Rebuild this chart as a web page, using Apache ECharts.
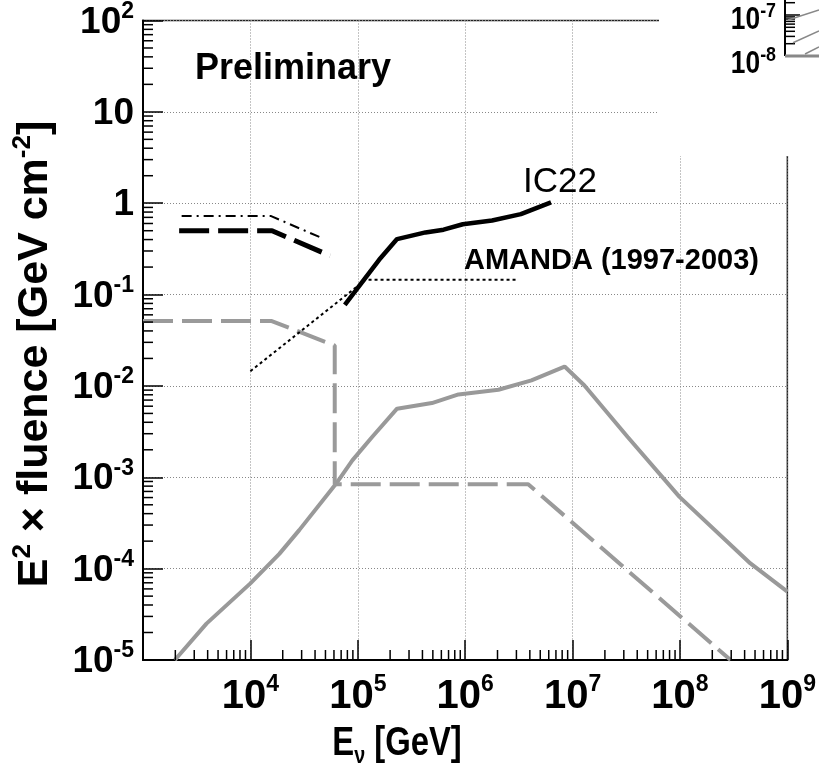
<!DOCTYPE html>
<html><head><meta charset="utf-8">
<script src="https://cdn.jsdelivr.net/npm/echarts@6/dist/echarts.min.js"></script>
<style>html,body{margin:0;padding:0;background:#fff}#c{width:819px;height:767px}</style>
</head><body><div id="c"></div>
<script>
// ---- data ----
const energyIC22   = [7.57e4, 1.58e5, 2.32e5, 4.27e5, 6.3e5, 9.5e5, 1.78e6, 3.3e6, 6.3e6];
const fluenceIC22  = [0.0771, 0.24, 0.405, 0.479, 0.513, 0.589, 0.646, 0.759, 1.02];

const energyAmanda  = [1e4, 1.18e5, 3e6];
const fluenceAmanda = [0.0145, 0.145, 0.145];

const energyDashDot  = [2.29e3, 1.56e4, 4.62e4];
const fluenceDashDot = [0.723, 0.723, 0.416];

const energyDashBlack  = [2.17e3, 1.59e4, 5.52e4];
const fluenceDashBlack = [0.5, 0.5, 0.266];

const energyGrayDash  = [1e3, 1.56e4, 6.1e4, 6.1e4, 3.86e6, 2.96e8];
const fluenceGrayDash = [0.0515, 0.0515, 0.0277, 8.4e-4, 8.4e-4, 1e-5];

const energyGraySolid  = [1.98e3, 3.9e3, 1e4, 1.86e4, 2.85e4, 6.46e4, 8.9e4, 1.36e5, 2.32e5, 4.9e5, 8.67e5, 2.04e6, 4.14e6, 8.43e6, 1.29e7, 3.26e7, 9.9e7, 4.53e8, 1e9];
const fluenceGraySolid = [1e-5, 2.5e-5, 6.9e-5, 1.45e-4, 2.64e-4, 8.9e-4, 1.53e-3, 2.76e-3, 5.64e-3, 6.49e-3, 8.07e-3, 9.08e-3, 1.15e-2, 1.63e-2, 1.01e-2, 2.76e-3, 6.1e-4, 1.14e-4, 5.6e-5];

const xExponentLabels = [4, 5, 6, 7, 8, 9];
const yExponentLabels = [2, 1, 0, -1, -2, -3, -4, -5];
const minorMantissas = [2, 3, 4, 5, 6, 7, 8, 9];
const xMinorDecades = [3, 4, 5, 6, 7, 8];
const yMinorDecades = [-5, -4, -3, -2, -1, 0, 1];

// ---- helpers ----
const FONT = '"Liberation Sans", Arial, sans-serif';
const pairs = (xs, ys) => xs.map((x, i) => [x, ys[i]]);

const minorTickData = [];
xMinorDecades.forEach(k => minorMantissas.forEach(m => minorTickData.push([m * Math.pow(10, k), 1e-5, 0])));
yMinorDecades.forEach(k => minorMantissas.forEach(m => minorTickData.push([1e3, m * Math.pow(10, k), 1])));

function xLabel(v) {
  const e = Math.round(Math.log10(v));
  if (xExponentLabels.indexOf(e) < 0) return '';
  return '{b|10}{s|' + e + '}';
}
function yLabel(v) {
  const e = Math.round(Math.log10(v));
  if (yExponentLabels.indexOf(e) < 0) return '';
  if (e === 0) return '{b|1}';
  if (e === 1) return '{b|10}';
  return '{b|10}{s|' + e + '}';
}

const chart = echarts.init(document.getElementById('c'), null, {renderer: 'canvas'});
const gridLine = {show: true, lineStyle: {color: '#888', width: 1, type: [1, 2]}};

const option = {
  animation: false,
  backgroundColor: '#fff',
  grid: {left: 143, top: 19, width: 647, height: 641, show: true, borderColor: '#222', borderWidth: 1.5, backgroundColor: 'transparent'},
  xAxis: {
    type: 'log', logBase: 10, min: 1e3, max: 1e9,
    axisLine: {onZero: false, lineStyle: {color: '#000', width: 2}},
    axisTick: {inside: true, length: 20, lineStyle: {color: '#000', width: 1.5}},
    splitLine: gridLine,
    axisLabel: {
      margin: 13, formatter: xLabel, showMinLabel: true, showMaxLabel: true,
      rich: {
        b: {fontSize: 40, fontWeight: 'bold', fontFamily: FONT, color: '#000', verticalAlign: 'top', padding: [4, 0, 0, 0]},
        s: {fontSize: 23, fontWeight: 'bold', fontFamily: FONT, color: '#000', verticalAlign: 'top'}
      }
    }
  },
  yAxis: {
    type: 'log', logBase: 10, min: 1e-5, max: 1e2,
    axisLine: {onZero: false, lineStyle: {color: '#000', width: 2}},
    axisTick: {inside: true, length: 20, lineStyle: {color: '#000', width: 1.5}},
    splitLine: gridLine,
    axisLabel: {
      margin: 9, formatter: yLabel, showMinLabel: true, showMaxLabel: true,
      rich: {
        b: {fontSize: 37, fontWeight: 'bold', fontFamily: FONT, color: '#000', verticalAlign: 'top', padding: [4, 0, 0, 0]},
        s: {fontSize: 23, fontWeight: 'bold', fontFamily: FONT, color: '#000', verticalAlign: 'top'}
      }
    }
  },
  series: [
    {type: 'custom', z: 5, silent: true, data: minorTickData,
     renderItem: function (params, api) {
       const cs = params.coordSys;
       const p = api.coord([api.value(0), api.value(1)]);
       if (api.value(2) === 0) {
         return {type: 'line', shape: {x1: p[0], y1: cs.y + cs.height, x2: p[0], y2: cs.y + cs.height - 10}, style: {stroke: '#000', lineWidth: 1.5}};
       }
       return {type: 'line', shape: {x1: cs.x, y1: p[1], x2: cs.x + 10, y2: p[1]}, style: {stroke: '#000', lineWidth: 1.5}};
     }},
    {type: 'line', name: 'gray solid', data: pairs(energyGraySolid, fluenceGraySolid), showSymbol: false, symbol: 'none',
     lineStyle: {color: '#999', width: 4}, z: 3},
    {type: 'line', name: 'gray dashed', data: pairs(energyGrayDash, fluenceGrayDash), showSymbol: false, symbol: 'none',
     lineStyle: {color: '#9a9a9a', width: 4, type: [30, 9]}, z: 3},
    {type: 'line', name: 'AMANDA', data: pairs(energyAmanda, fluenceAmanda), showSymbol: false, symbol: 'none',
     lineStyle: {color: '#000', width: 2, type: [3, 3]}, z: 4},
    {type: 'line', name: 'dash-dot', data: pairs(energyDashDot, fluenceDashDot), showSymbol: false, symbol: 'none',
     lineStyle: {color: '#000', width: 2, type: [10, 5, 2, 5]}, z: 4},
    {type: 'line', name: 'dashed black', data: pairs(energyDashBlack, fluenceDashBlack), showSymbol: false, symbol: 'none',
     lineStyle: {color: '#000', width: 5, type: [30, 9]}, z: 4},
    {type: 'line', name: 'IC22', data: pairs(energyIC22, fluenceIC22), showSymbol: false, symbol: 'none',
     lineStyle: {color: '#000', width: 4.5}, z: 4}
  ],
  graphic: [
    // mask from a neighbouring overlapping panel
    {type: 'rect', z: 100, shape: {x: 659, y: 0, width: 160, height: 156}, style: {fill: '#fff'}},
    {type: 'line', z: 101, shape: {x1: 785, y1: 0, x2: 785, y2: 56}, style: {stroke: '#000', lineWidth: 2}},
    {type: 'line', z: 101, shape: {x1: 785, y1: 56, x2: 819, y2: 56}, style: {stroke: '#888', lineWidth: 3}},
    {type: 'line', z: 101, shape: {x1: 785, y1: 15, x2: 800, y2: 15}, style: {stroke: '#000', lineWidth: 1.5}},
    {type: 'line', z: 101, shape: {x1: 785, y1: 2.7, x2: 795, y2: 2.7}, style: {stroke: '#000', lineWidth: 1.5}},
    {type: 'line', z: 101, shape: {x1: 785, y1: 16.9, x2: 795, y2: 16.9}, style: {stroke: '#000', lineWidth: 1.5}},
    {type: 'line', z: 101, shape: {x1: 785, y1: 19, x2: 795, y2: 19}, style: {stroke: '#000', lineWidth: 1.5}},
    {type: 'line', z: 101, shape: {x1: 785, y1: 21.4, x2: 795, y2: 21.4}, style: {stroke: '#000', lineWidth: 1.5}},
    {type: 'line', z: 101, shape: {x1: 785, y1: 24.1, x2: 795, y2: 24.1}, style: {stroke: '#000', lineWidth: 1.5}},
    {type: 'line', z: 101, shape: {x1: 785, y1: 27.3, x2: 795, y2: 27.3}, style: {stroke: '#000', lineWidth: 1.5}},
    {type: 'line', z: 101, shape: {x1: 785, y1: 31.3, x2: 795, y2: 31.3}, style: {stroke: '#000', lineWidth: 1.5}},
    {type: 'line', z: 101, shape: {x1: 785, y1: 36.4, x2: 795, y2: 36.4}, style: {stroke: '#000', lineWidth: 1.5}},
    {type: 'line', z: 101, shape: {x1: 785, y1: 43.7, x2: 795, y2: 43.7}, style: {stroke: '#000', lineWidth: 1.5}},
    {type: 'line', z: 101, shape: {x1: 788, y1: 20, x2: 819, y2: 10}, style: {stroke: '#888', lineWidth: 1.5}},
    {type: 'line', z: 101, shape: {x1: 793, y1: 42.7, x2: 819, y2: 31}, style: {stroke: '#888', lineWidth: 1.5}},
    {type: 'line', z: 101, shape: {x1: 805, y1: 54, x2: 819, y2: 47}, style: {stroke: '#888', lineWidth: 1.5}},
    {type: 'text', z: 101, x: 776, y: 1, scaleX: 0.85, style: {text: '{b|10}{s|-7}', align: 'right', verticalAlign: 'top',
      rich: {b: {fontSize: 31, fontWeight: 'bold', fontFamily: FONT, fill: '#000', verticalAlign: 'top', padding: [4, 0, 0, 0]},
             s: {fontSize: 21, fontWeight: 'bold', fontFamily: FONT, fill: '#000', verticalAlign: 'top'}}}},
    {type: 'text', z: 101, x: 776, y: 45, scaleX: 0.85, style: {text: '{b|10}{s|-8}', align: 'right', verticalAlign: 'top',
      rich: {b: {fontSize: 31, fontWeight: 'bold', fontFamily: FONT, fill: '#000', verticalAlign: 'top', padding: [4, 0, 0, 0]},
             s: {fontSize: 21, fontWeight: 'bold', fontFamily: FONT, fill: '#000', verticalAlign: 'top'}}}},
    // annotations
    {type: 'text', z: 50, x: 195, y: 69, style: {text: 'Preliminary', font: 'bold 36px ' + FONT, fill: '#000', align: 'left', verticalAlign: 'middle'}},
    {type: 'text', z: 50, x: 523, y: 182.5, style: {text: 'IC22', font: '35px ' + FONT, fill: '#000', align: 'left', verticalAlign: 'middle'}},
    {type: 'text', z: 50, x: 464, y: 261, style: {text: 'AMANDA (1997-2003)', font: 'bold 29px ' + FONT, fill: '#000', align: 'left', verticalAlign: 'middle'}},
    // axis titles
    {type: 'text', z: 50, x: 397, y: 724, scaleX: 0.82, style: {text: '{b|E}{u|ν}{b| [GeV]}', align: 'center', verticalAlign: 'top',
      rich: {b: {fontSize: 40, fontWeight: 'bold', fontFamily: FONT, fill: '#000', verticalAlign: 'top'},
             u: {fontSize: 24, fontWeight: 'bold', fontFamily: FONT, fill: '#000', verticalAlign: 'top', padding: [20, 0, 0, 0]}}}},
    {type: 'text', z: 50, x: 33, y: 354, rotation: Math.PI / 2, style: {text: '{b|E}{s|2}{b| × fluence [GeV cm}{s|-2}{b|]}', align: 'center', verticalAlign: 'middle',
      rich: {b: {fontSize: 43, fontWeight: 'bold', fontFamily: FONT, fill: '#000', verticalAlign: 'top', padding: [4, 0, 0, 0]},
             s: {fontSize: 26, fontWeight: 'bold', fontFamily: FONT, fill: '#000', verticalAlign: 'top'}}}}
  ]
};
chart.setOption(option);
</script></body></html>
